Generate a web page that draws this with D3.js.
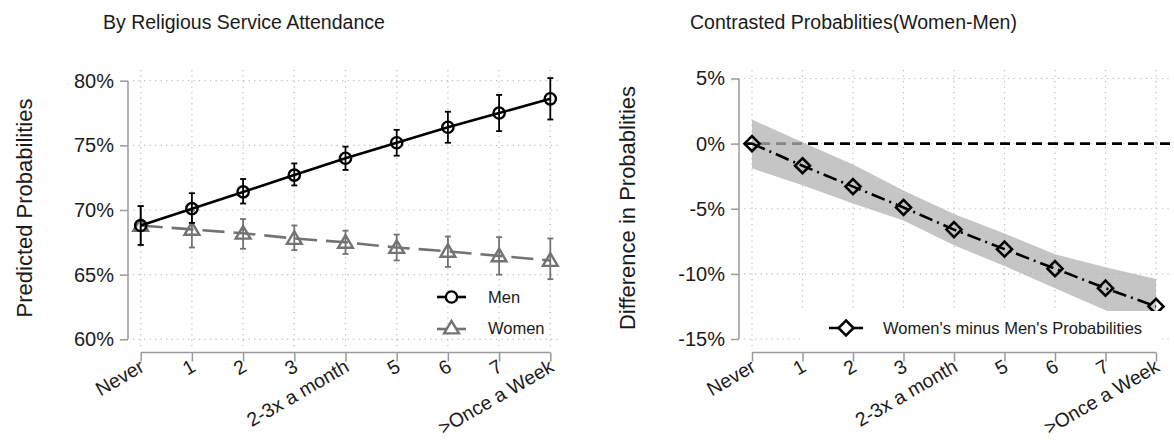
<!DOCTYPE html>
<html>
<head>
<meta charset="utf-8">
<script src="https://cdn.jsdelivr.net/npm/d3@7"></script>
<style>
  html, body { margin: 0; padding: 0; background: #fff; }
  svg { display: block; font-family: "Liberation Sans", Arial, sans-serif; }
</style>
</head>
<body>
<svg id="chart" width="1174" height="440"></svg>
<script>
// Attendance categories shared by both panels
const categories = ["Never", "1", "2", "3", "2-3x a month", "5", "6", "7", ">Once a Week"];

// Predicted probabilities (%) with 95% intervals
const menProb  = [68.8, 70.1, 71.4, 72.7, 74.0, 75.2, 76.4, 77.5, 78.6];
const menLo    = [67.3, 69.0, 70.5, 71.9, 73.1, 74.2, 75.2, 76.1, 77.0];
const menHi    = [70.3, 71.3, 72.4, 73.6, 74.9, 76.2, 77.6, 78.9, 80.2];
const womenProb = [68.8, 68.5, 68.2, 67.8, 67.5, 67.1, 66.8, 66.45, 66.1];
const womenLo   = [67.3, 67.1, 67.0, 66.9, 66.6, 66.1, 65.6, 65.0, 64.65];
const womenHi   = [70.3, 69.95, 69.3, 68.8, 68.4, 68.1, 67.95, 67.9, 67.8];

// Contrast: women minus men (percentage points) with interval band
const diffProb = [0, -1.7, -3.3, -4.9, -6.6, -8.1, -9.6, -11.1, -12.5];
const diffLo   = [-1.9, -3.2, -4.6, -5.9, -7.8, -9.4, -11.1, -12.8, -14.6];
const diffHi   = [1.85, 0.1, -1.6, -3.6, -5.4, -6.9, -8.5, -9.5, -10.4];

// Axis ticks
const leftTicks  = [60, 65, 70, 75, 80];
const rightTicks = [-15, -10, -5, 0, 5];

const FONT = '"Liberation Sans", Arial, sans-serif';
const AXIS_COLOR = "#9a9a9a";
const GRID_COLOR = "#bdbdbd";
const TEXT_COLOR = "#1a1a1a";
const WOMEN_COLOR = "#737373";

const svg = d3.select("#chart");

function panel(cfg) {
  const g = svg.append("g");
  const x = d3.scalePoint().domain(categories).range(cfg.xRange);
  const y = d3.scaleLinear().domain(cfg.yDomain).range(cfg.yRange);

  // dotted grid
  const grid = g.append("g").attr("stroke", GRID_COLOR).attr("stroke-width", 1.2)
    .attr("stroke-dasharray", "1.2,4.3").attr("fill", "none");
  grid.selectAll("line.h").data(cfg.ticks).join("line")
    .attr("x1", cfg.plot[0]).attr("x2", cfg.plot[1])
    .attr("y1", d => y(d)).attr("y2", d => y(d));
  grid.selectAll("line.v").data(categories).join("line")
    .attr("x1", d => x(d)).attr("x2", d => x(d))
    .attr("y1", cfg.plot[2]).attr("y2", cfg.plot[3]);

  // y axis (spans the tick range)
  const yAxis = g.append("g").attr("transform", `translate(${cfg.yAxisX},0)`)
    .call(d3.axisLeft(y).tickValues(cfg.ticks).tickSize(8).tickPadding(6)
      .tickFormat(d => d + "%"));
  yAxis.select(".domain").attr("d", `M0,${y(cfg.ticks[0])}V${y(cfg.ticks[cfg.ticks.length - 1])}`);

  // x axis (offset below the plot)
  const xAxis = g.append("g").attr("transform", `translate(0,${cfg.xAxisY})`)
    .call(d3.axisBottom(x).tickSize(9).tickSizeOuter(0));
  xAxis.select(".domain").attr("d", `M${cfg.xRange[0]},0H${cfg.xRange[1]}`);

  [yAxis, xAxis].forEach(a => {
    a.select(".domain").attr("stroke", AXIS_COLOR).attr("stroke-width", 1.5);
    a.selectAll(".tick line").attr("stroke", AXIS_COLOR).attr("stroke-width", 1.5);
    a.selectAll(".tick text").attr("fill", TEXT_COLOR).style("font-family", FONT).style("font-size", "20px");
  });
  xAxis.selectAll(".tick text")
    .style("font-size", "19.5px")
    .attr("text-anchor", "end")
    .attr("x", 0).attr("y", 0).attr("dy", "0.35em")
    .attr("transform", "translate(1,12) rotate(-30)");

  // title
  svg.append("text").attr("x", cfg.titleX).attr("y", 29)
    .style("font-family", FONT).style("font-size", "19.5px").attr("fill", TEXT_COLOR)
    .text(cfg.title);
  // y title
  svg.append("text")
    .attr("transform", `translate(${cfg.yTitleX},${cfg.yTitleY}) rotate(-90)`)
    .attr("text-anchor", "middle").attr("dy", "0.35em")
    .style("font-family", FONT).style("font-size", "22px").attr("fill", TEXT_COLOR)
    .text(cfg.yTitle);

  return { g, x, y };
}

// ---------- Left panel: predicted probabilities ----------
const L = panel({
  xRange: [140.7, 550.3], yDomain: [60, 80], yRange: [339.3, 80.7],
  plot: [133, 561, 70, 350], ticks: leftTicks, yAxisX: 128, xAxisY: 352.5,
  title: "By Religious Service Attendance", titleX: 103,
  yTitle: "Predicted Probabilities", yTitleX: 24, yTitleY: 208
});

function drawSeries(p, vals, lo, hi, color, dash, shape) {
  const pts = categories.map((c, i) => ({ c, v: vals[i], lo: lo[i], hi: hi[i] }));
  const eb = p.g.append("g").attr("stroke", color).attr("stroke-width", 1.8).attr("fill", "none");
  eb.selectAll("line.bar").data(pts).join("line")
    .attr("x1", d => p.x(d.c)).attr("x2", d => p.x(d.c))
    .attr("y1", d => p.y(d.lo)).attr("y2", d => p.y(d.hi));
  eb.selectAll("line.caplo").data(pts).join("line")
    .attr("x1", d => p.x(d.c) - 3).attr("x2", d => p.x(d.c) + 3)
    .attr("y1", d => p.y(d.lo)).attr("y2", d => p.y(d.lo));
  eb.selectAll("line.caphi").data(pts).join("line")
    .attr("x1", d => p.x(d.c) - 3).attr("x2", d => p.x(d.c) + 3)
    .attr("y1", d => p.y(d.hi)).attr("y2", d => p.y(d.hi));

  p.g.append("path").datum(pts)
    .attr("fill", "none").attr("stroke", color).attr("stroke-width", 2.6)
    .attr("stroke-dasharray", dash)
    .attr("d", d3.line().x(d => p.x(d.c)).y(d => p.y(d.v)));

  p.g.append("g").selectAll("path").data(pts).join("path")
    .attr("transform", d => `translate(${p.x(d.c)},${p.y(d.v)})`)
    .attr("d", shape)
    .attr("fill", "none").attr("stroke", color).attr("stroke-width", 2.4);
}

const circleShape = d3.symbol(d3.symbolCircle, 100)();
const triShape = "M0,-7.2L7.4,5.4L-7.4,5.4Z";
const diamondShape = "M0,-7.5L7.5,0L0,7.5L-7.5,0Z";

drawSeries(L, womenProb, womenLo, womenHi, WOMEN_COLOR, "22,9", triShape);
drawSeries(L, menProb, menLo, menHi, "#000", null, circleShape);

// left legend
const legL = svg.append("g");
legL.append("line").attr("x1", 437).attr("x2", 466).attr("y1", 297).attr("y2", 297)
  .attr("stroke", "#000").attr("stroke-width", 2.6);
legL.append("path").attr("transform", "translate(451.5,297)").attr("d", circleShape)
  .attr("fill", "#fff").attr("stroke", "#000").attr("stroke-width", 2.4);
legL.append("line").attr("x1", 437).attr("x2", 466).attr("y1", 329).attr("y2", 329)
  .attr("stroke", WOMEN_COLOR).attr("stroke-width", 2.6);
legL.append("path").attr("transform", "translate(451.5,328)").attr("d", triShape)
  .attr("fill", "#fff").attr("stroke", WOMEN_COLOR).attr("stroke-width", 2.4);
legL.selectAll("text").data(["Men", "Women"]).join("text")
  .attr("x", 488).attr("y", (d, i) => 297 + i * 31).attr("dy", "0.35em")
  .style("font-family", FONT).style("font-size", "16.5px").attr("fill", TEXT_COLOR)
  .text(d => d);

// ---------- Right panel: contrast ----------
const R = panel({
  xRange: [752, 1156], yDomain: [-15, 5], yRange: [339, 78.5],
  plot: [744, 1169, 70, 350], ticks: rightTicks, yAxisX: 739, xAxisY: 352.5,
  title: "Contrasted Probablities(Women-Men)", titleX: 690,
  yTitle: "Difference in Probablities", yTitleX: 627, yTitleY: 208
});

// reference line at zero
R.g.append("line")
  .attr("x1", 744).attr("x2", 1170).attr("y1", R.y(0)).attr("y2", R.y(0))
  .attr("stroke", "#000").attr("stroke-width", 2.6).attr("stroke-dasharray", "10,6");

const dpts = categories.map((c, i) => ({ c, v: diffProb[i], lo: diffLo[i], hi: diffHi[i] }));

// interval band
R.g.append("path").datum(dpts)
  .attr("fill", "rgb(178,178,178)").attr("fill-opacity", 0.75)
  .attr("d", d3.area().x(d => R.x(d.c)).y0(d => R.y(d.lo)).y1(d => R.y(d.hi)));

R.g.append("path").datum(dpts)
  .attr("fill", "none").attr("stroke", "#000").attr("stroke-width", 2.6)
  .attr("stroke-dasharray", "14,5,2,5")
  .attr("d", d3.line().x(d => R.x(d.c)).y(d => R.y(d.v)));

R.g.append("g").selectAll("path").data(dpts).join("path")
  .attr("transform", d => `translate(${R.x(d.c)},${R.y(d.v)})`)
  .attr("d", diamondShape)
  .attr("fill", "none").attr("stroke", "#000").attr("stroke-width", 2.6);

// right legend (opaque box over the plot)
const legR = svg.append("g");
legR.append("rect").attr("x", 800).attr("y", 311).attr("width", 362).attr("height", 36).attr("fill", "#fff");
legR.append("line").attr("x1", 829).attr("x2", 863).attr("y1", 328).attr("y2", 328)
  .attr("stroke", "#000").attr("stroke-width", 2.6);
legR.append("path").attr("transform", "translate(846,328)").attr("d", diamondShape)
  .attr("fill", "#fff").attr("stroke", "#000").attr("stroke-width", 2.6);
legR.append("text").attr("x", 883).attr("y", 328).attr("dy", "0.35em")
  .style("font-family", FONT).style("font-size", "16.5px").attr("fill", TEXT_COLOR)
  .text("Women's minus Men's Probabilities");
</script>
</body>
</html>
